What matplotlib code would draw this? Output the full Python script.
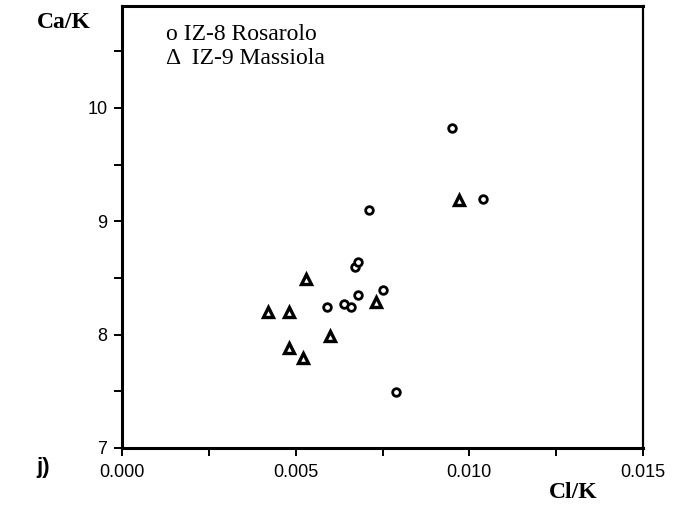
import matplotlib
matplotlib.use("Agg")
import matplotlib.pyplot as plt
from matplotlib.ticker import MultipleLocator

# IZ-8 Rosarolo (circles)
ros_cl = [0.0095, 0.0104, 0.0071, 0.0067, 0.0068, 0.0068, 0.0075, 0.0064, 0.0066, 0.0059, 0.0079]
ros_ca = [9.82, 9.20, 9.10, 8.60, 8.64, 8.35, 8.39, 8.27, 8.24, 8.24, 7.49]

# IZ-9 Massiola (triangles)
mas_cl = [0.0097, 0.0053, 0.0042, 0.0048, 0.0073, 0.0060, 0.0048, 0.0052]
mas_ca = [9.19, 8.49, 8.20, 8.20, 8.29, 7.99, 7.88, 7.79]

legend_labels = ["o IZ-8 Rosarolo", "\u0394  IZ-9 Massiola"]
x_ticks = [0, 0.005, 0.010, 0.015]
x_tick_labels = ["0.000", "0.005", "0.010", "0.015"]
y_ticks = [7, 8, 9, 10]
y_tick_labels = ["7", "8", "9", "10"]

W, H = 686, 508
fig = plt.figure(figsize=(W / 100, H / 100), dpi=100)
# caja de ejes en pixeles: izq 122, der 643, arriba 6, abajo 448
ax = fig.add_axes([122 / W, 1 - 448 / H, (643 - 122) / W, (448 - 6) / H])

ax.plot(ros_cl, ros_ca, linestyle="none", marker="o", ms=5.5, mfc="white",
        mec="black", mew=2.0)
ax.plot(mas_cl, mas_ca, linestyle="none", marker="^", ms=7.5, mfc="white",
        mec="black", mew=2.4)

ax.set_xlim(0, 0.015)
ax.set_ylim(7, 10.9)
ax.set_xticks(x_ticks)
ax.set_xticklabels(x_tick_labels)
ax.set_yticks(y_ticks)
ax.set_yticklabels(y_tick_labels)
ax.xaxis.set_minor_locator(MultipleLocator(0.0025))
ax.yaxis.set_minor_locator(MultipleLocator(0.5))

for s in ax.spines.values():
    s.set_linewidth(2.2)
ax.spines["right"].set_linewidth(1.6)

ax.tick_params(axis="both", which="both", direction="out", width=1.4,
               length=5.5, labelsize=13)
ax.tick_params(axis="x", which="major", pad=6)
ax.tick_params(axis="y", which="major", pad=5)
for lab in ax.get_xticklabels() + ax.get_yticklabels():
    lab.set_family("Liberation Sans")

fig.text(37 / W, 1 - 22 / H, "Ca/K", family="Liberation Serif",
         weight="bold", fontsize=17, ha="left", va="center")
fig.text(597 / W, 1 - 492 / H, "Cl/K", family="Liberation Serif",
         weight="bold", fontsize=17, ha="right", va="center")
fig.text(36 / W, 1 - 468 / H, "j)", family="Liberation Sans",
         weight="bold", fontsize=16, ha="left", va="center")

fig.text(166 / W, 1 - 35 / H, legend_labels[0], family="Liberation Serif",
         fontsize=17, ha="left", va="center")
fig.text(166 / W, 1 - 58 / H, legend_labels[1], family="Liberation Serif",
         fontsize=17, ha="left", va="center")

fig.savefig("out.png", dpi=100)
